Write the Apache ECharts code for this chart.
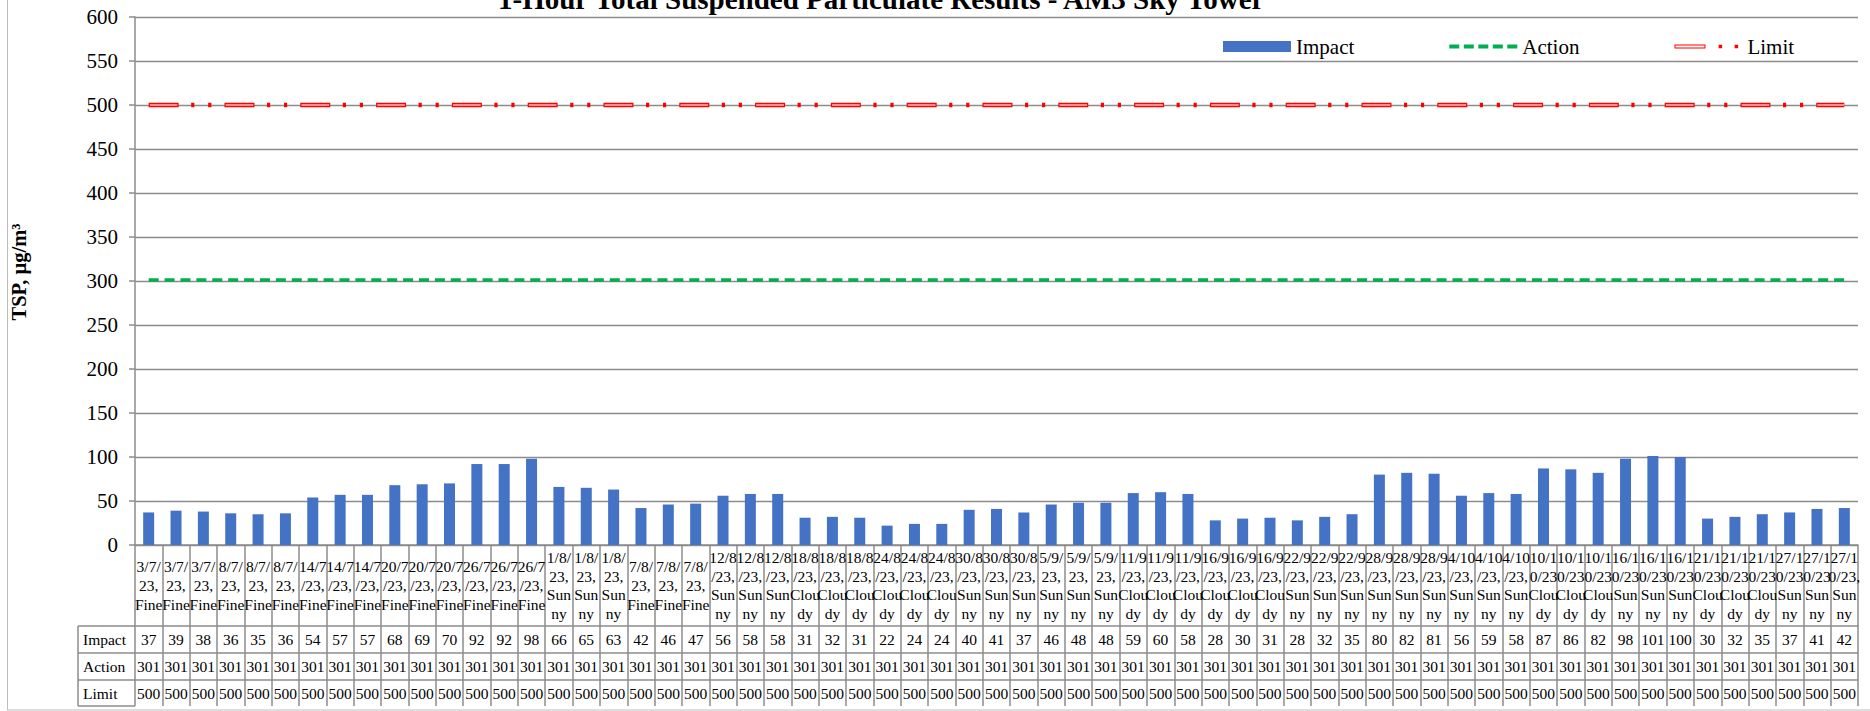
<!DOCTYPE html>
<html>
<head>
<meta charset="utf-8">
<script src="https://cdn.jsdelivr.net/npm/echarts@6/dist/echarts.min.js"></script>
<style>
html,body{margin:0;padding:0;background:#fff;}
#c{width:1870px;height:711px;}
</style>
</head>
<body>
<div id="c"></div>
<script>
// ---------- DATA ----------
const categories = [
  "3/7/\n23,\nFine","3/7/\n23,\nFine","3/7/\n23,\nFine",
  "8/7/\n23,\nFine","8/7/\n23,\nFine","8/7/\n23,\nFine",
  "14/7\n/23,\nFine","14/7\n/23,\nFine","14/7\n/23,\nFine",
  "20/7\n/23,\nFine","20/7\n/23,\nFine","20/7\n/23,\nFine",
  "26/7\n/23,\nFine","26/7\n/23,\nFine","26/7\n/23,\nFine",
  "1/8/\n23,\nSun\nny","1/8/\n23,\nSun\nny","1/8/\n23,\nSun\nny",
  "7/8/\n23,\nFine","7/8/\n23,\nFine","7/8/\n23,\nFine",
  "12/8\n/23,\nSun\nny","12/8\n/23,\nSun\nny","12/8\n/23,\nSun\nny",
  "18/8\n/23,\nClou\ndy","18/8\n/23,\nClou\ndy","18/8\n/23,\nClou\ndy",
  "24/8\n/23,\nClou\ndy","24/8\n/23,\nClou\ndy","24/8\n/23,\nClou\ndy",
  "30/8\n/23,\nSun\nny","30/8\n/23,\nSun\nny","30/8\n/23,\nSun\nny",
  "5/9/\n23,\nSun\nny","5/9/\n23,\nSun\nny","5/9/\n23,\nSun\nny",
  "11/9\n/23,\nClou\ndy","11/9\n/23,\nClou\ndy","11/9\n/23,\nClou\ndy",
  "16/9\n/23,\nClou\ndy","16/9\n/23,\nClou\ndy","16/9\n/23,\nClou\ndy",
  "22/9\n/23,\nSun\nny","22/9\n/23,\nSun\nny","22/9\n/23,\nSun\nny",
  "28/9\n/23,\nSun\nny","28/9\n/23,\nSun\nny","28/9\n/23,\nSun\nny",
  "4/10\n/23,\nSun\nny","4/10\n/23,\nSun\nny","4/10\n/23,\nSun\nny",
  "10/1\n0/23\nClou\ndy","10/1\n0/23\nClou\ndy","10/1\n0/23\nClou\ndy",
  "16/1\n0/23\nSun\nny","16/1\n0/23\nSun\nny","16/1\n0/23\nSun\nny",
  "21/1\n0/23\nClou\ndy","21/1\n0/23\nClou\ndy","21/1\n0/23\nClou\ndy",
  "27/1\n0/23\nSun\nny","27/1\n0/23\nSun\nny","27/1\n0/23,\nSun\nny"
];
const impact = [37,39,38,36,35,36,54,57,57,68,69,70,92,92,98,66,65,63,42,46,47,56,58,58,31,32,31,22,24,24,40,41,37,46,48,48,59,60,58,28,30,31,28,32,35,80,82,81,56,59,58,87,86,82,98,101,100,30,32,35,37,41,42];
const action = [301,301,301,301,301,301,301,301,301,301,301,301,301,301,301,301,301,301,301,301,301,301,301,301,301,301,301,301,301,301,301,301,301,301,301,301,301,301,301,301,301,301,301,301,301,301,301,301,301,301,301,301,301,301,301,301,301,301,301,301,301,301,301];
const limit = [500,500,500,500,500,500,500,500,500,500,500,500,500,500,500,500,500,500,500,500,500,500,500,500,500,500,500,500,500,500,500,500,500,500,500,500,500,500,500,500,500,500,500,500,500,500,500,500,500,500,500,500,500,500,500,500,500,500,500,500,500,500,500];
const rowNames = ["Impact","Action","Limit"];
const titleText = "1-Hour Total Suspended Particulate Results - AM3 Sky Tower";
const yName = "TSP, µg/m³";
const yMin = 0, yMax = 600, yStep = 50;

// ---------- LAYOUT / STYLE ----------
const FONT = '"Liberation Serif", "Times New Roman", serif';
const GRAY = '#8c8c8c';
const GL = 135, GR = 1858, GT = 17, GB = 545;   // plot area
const LABEL_H = 81, ROW_H = 27;
const HEAD_L = 78;
const TABLE_FS = 15.5;

const rowData = [impact, action, limit];

function valueAxis(k) {
  return {
    type: 'category', data: categories, gridIndex: 0, position: 'bottom',
    offset: LABEL_H + ROW_H * k,
    axisLine: {show: true, lineStyle: {color: GRAY, width: 1.5}},
    axisTick: {show: true, interval: 0, length: (k === 2 ? ROW_H - 1 : ROW_H), lineStyle: {color: GRAY, width: 1.5}},
    axisLabel: {
      interval: 0, margin: ROW_H / 2, verticalAlign: 'middle',
      fontFamily: FONT, fontSize: TABLE_FS, color: '#000',
      formatter: (v, i) => String(rowData[k][i])
    },
    splitLine: {show: false}
  };
}

const ACTION_ICON = 'path://M0,0h0.01v0.01h-0.01z M67.99,10.99h0.01v0.01h-0.01z ' +
  'M0,3.5h10v4h-10z M14.5,3.5h10v4h-10z M29,3.5h10v4h-10z M43.5,3.5h10v4h-10z M58,3.5h10v4h-10z';
const LIMIT_ICON = 'path://M0,0h0.01v0.01h-0.01z M67.99,10.99h0.01v0.01h-0.01z ' +
  'M0,3.5h31v4h-31z M1,4.5v2h29v-2z M44.2,3.75h3.5v3.5h-3.5z M60.2,3.75h3.5v3.5h-3.5z';

const chart = echarts.init(document.getElementById('c'), null, {renderer: 'svg'});

const headerGraphics = [
  {type: 'rect', shape: {x: 7.5, y: -10, width: 1900, height: 720}, style: {fill: 'none', stroke: '#bdbdbd', lineWidth: 1}, silent: true},
  {type: 'line', shape: {x1: HEAD_L, y1: GB + LABEL_H, x2: HEAD_L, y2: GB + LABEL_H + 3 * ROW_H - 1}, style: {stroke: GRAY, lineWidth: 1.5}},
];
for (let k = 0; k <= 3; k++) {
  const y = GB + LABEL_H + ROW_H * k - (k === 3 ? 1 : 0);
  headerGraphics.push({type: 'line', shape: {x1: HEAD_L, y1: y, x2: GL, y2: y}, style: {stroke: GRAY, lineWidth: 1.5}});
}
rowNames.forEach((n, k) => {
  headerGraphics.push({
    type: 'text', x: HEAD_L + 5, y: GB + LABEL_H + ROW_H * k + ROW_H / 2,
    style: {text: n, font: TABLE_FS + 'px ' + FONT, fill: '#000', verticalAlign: 'middle', align: 'left'}
  });
});

chart.setOption({
  animation: false,
  backgroundColor: '#fff',
  title: {
    text: titleText, left: 498, top: -16, padding: 0,
    textStyle: {fontFamily: FONT, fontWeight: 'bold', fontSize: 29, color: '#000'}
  },
  legend: {
    left: 1223, top: 36, padding: 0, itemWidth: 68, itemHeight: 11, itemGap: 95,
    selectedMode: false,
    textStyle: {fontFamily: FONT, fontSize: 21, color: '#000'},
    data: [
      {name: 'Impact', icon: 'rect', itemStyle: {color: '#4472C4', borderWidth: 0}},
      {name: 'Action', icon: ACTION_ICON, itemStyle: {color: '#00B050', borderWidth: 0}},
      {name: 'Limit', icon: LIMIT_ICON, itemStyle: {color: '#FF0000', borderWidth: 0}}
    ]
  },
  grid: {left: GL, right: 1870 - GR, top: GT, bottom: 711 - GB, containLabel: false, outerBoundsMode: 'none'},
  xAxis: [
    {
      type: 'category', data: categories, gridIndex: 0, position: 'bottom',
      axisLine: {show: true, lineStyle: {color: GRAY, width: 1.5}},
      axisTick: {show: true, interval: 0, length: LABEL_H, lineStyle: {color: GRAY, width: 1.5}},
      axisLabel: {
        interval: 0, margin: LABEL_H / 2, verticalAlign: 'middle', align: 'center',
        fontFamily: FONT, fontSize: TABLE_FS, lineHeight: 18.7, color: '#000'
      },
      splitLine: {show: false}
    },
    valueAxis(0), valueAxis(1), valueAxis(2)
  ],
  yAxis: {
    type: 'value', min: yMin, max: yMax, interval: yStep,
    name: yName, nameLocation: 'middle', nameGap: 106, nameRotate: 90,
    nameTextStyle: {fontFamily: FONT, fontWeight: 'bold', fontSize: 20.5, color: '#000', padding: [0, 0, 0, 18]},
    axisLine: {show: true, lineStyle: {color: GRAY, width: 1.5}},
    axisTick: {show: true, length: 6, lineStyle: {color: GRAY, width: 1.5}},
    axisLabel: {fontFamily: FONT, fontSize: 21, color: '#000', margin: 17},
    splitLine: {show: true, lineStyle: {color: GRAY, width: 1.3}}
  },
  graphic: headerGraphics,
  series: [
    {
      name: 'Impact', type: 'bar', data: impact, barWidth: 11,
      itemStyle: {color: '#4472C4'}
    },
    {
      name: 'Action', type: 'line', data: action, symbol: 'none',
      itemStyle: {color: '#00B050'},
      lineStyle: {color: '#00B050', width: 3.5, type: [10, 5.9]}
    },
    {
      name: 'Limit', type: 'line', data: limit, symbol: 'none',
      itemStyle: {color: '#FF0000'},
      lineStyle: {color: '#FF0000', width: 4.5, type: [30, 12.5, 3.2, 13.8, 3.2, 13.1]}
    },
    {
      name: 'LimitFill', type: 'line', data: limit, symbol: 'none', silent: true,
      itemStyle: {color: '#FF8C8C'},
      lineStyle: {color: '#FF8C8C', width: 2, type: [0, 1.2, 27.6, 47]}
    }
  ]
});
</script>
</body>
</html>
